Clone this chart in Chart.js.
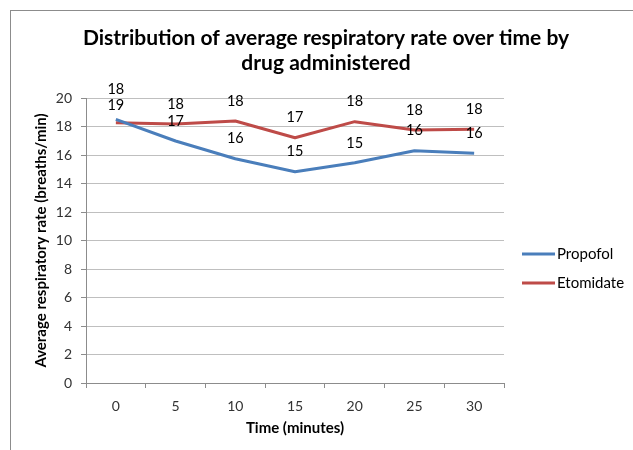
<!DOCTYPE html>
<html>
<head>
<meta charset="utf-8">
<script src="https://cdn.jsdelivr.net/npm/chart.js@4/dist/chart.umd.min.js"></script>
<style>
    html, body { margin: 0; padding: 0; background: #fff; }
</style>
</head>
<body>
<canvas id="chart1" width="633" height="450"></canvas>
<script>
var minutes = ['0', '5', '10', '15', '20', '25', '30'];
var propofol = [18.5, 16.98, 15.74, 14.83, 15.45, 16.3, 16.12];
var etomidate = [18.27, 18.18, 18.39, 17.21, 18.34, 17.75, 17.8];
var yTicks = [0, 2, 4, 6, 8, 10, 12, 14, 16, 18, 20];
var seriesNames = ['Propofol', 'Etomidate'];
var seriesColors = ['#4a7ebb', '#be4b48'];

Chart.defaults.font.family = 'Lato';
Chart.defaults.color = '#333';

// frame, title and legend drawn by hand, Excel style
var excelBits = {
    id: 'excelBits',
    beforeDraw: function(chart) {
        var c = chart.ctx;
        c.save();
        c.fillStyle = '#fff';
        c.fillRect(0, 0, chart.width, chart.height);
        c.strokeStyle = '#8c8c8c';
        c.lineWidth = 1;
        c.strokeRect(10.5, 10.5, 700, 500);
        c.restore();
    },
    afterDraw: function(chart) {
        var c = chart.ctx;
        c.save();
        c.fillStyle = '#000';
        c.textAlign = 'center';
        c.textBaseline = 'alphabetic';
        c.font = 'bold 21px Lato';
        c.fillText('Distribution of average respiratory rate over time by', 326, 45);
        c.fillText('drug administered', 326, 70);

        c.font = '15px Lato';
        c.textAlign = 'left';
        c.textBaseline = 'middle';
        chart.data.datasets.forEach(function(ds, i) {
            var y = 254 + i * 29;
            c.strokeStyle = ds.borderColor;
            c.lineWidth = 3;
            c.beginPath();
            c.moveTo(522, y);
            c.lineTo(555, y);
            c.stroke();
            c.fillStyle = '#000';
            c.fillText(ds.label, 557, y);
        });
        c.restore();
    }
};

var pointLabels = {
    id: 'pointLabels',
    afterDatasetsDraw: function(chart, args, opts) {
        var c = chart.ctx;
        c.save();
        c.font = '14.5px Lato';
        c.fillStyle = '#000';
        c.textAlign = 'center';
        c.textBaseline = 'middle';
        chart.data.datasets.forEach(function(ds, i) {
            chart.getDatasetMeta(i).data.forEach(function(pt, j) {
                var lift = opts.nudge[i + '-' + j] || opts.lift;
                c.fillText(Math.round(ds.data[j]), pt.x, pt.y - lift);
            });
        });
        c.restore();
    }
};

var ctx1 = document.getElementById('chart1').getContext('2d');
new Chart(ctx1, {
    type: 'line',
    plugins: [excelBits, pointLabels],
    data: {
        labels: minutes,
        datasets: [{
            label: seriesNames[0],
            data: propofol,
            borderColor: seriesColors[0],
            backgroundColor: seriesColors[0],
            borderWidth: 3,
            pointRadius: 0,
            borderJoinStyle: 'round',
            tension: 0
        }, {
            label: seriesNames[1],
            data: etomidate,
            borderColor: seriesColors[1],
            backgroundColor: seriesColors[1],
            borderWidth: 3,
            pointRadius: 0,
            borderJoinStyle: 'round',
            tension: 0
        }]
    },
    options: {
        responsive: false,
        animation: false,
        layout: { padding: { left: 10, top: 98, right: 129, bottom: 0 } },
        plugins: {
            legend: { display: false },
            title: { display: false },
            tooltip: { enabled: false },
            pointLabels: { lift: 20, nudge: { '0-0': 14, '1-0': 33 } }
        },
        scales: {
            x: {
                offset: true,
                afterFit: function(s) { s.height = 67; },
                grid: { offset: true, drawOnChartArea: false, tickLength: 5, color: '#8c8c8c' },
                border: { color: '#8c8c8c' },
                ticks: { padding: 10, font: { size: 14 }, maxRotation: 0 },
                title: { display: true, text: 'Time (minutes)', color: '#000', font: { size: 15, weight: 'bold' }, padding: { top: 0, bottom: 13 } }
            },
            y: {
                min: 0,
                max: 20,
                afterFit: function(s) { s.width = 76; },
                afterBuildTicks: function(s) { s.ticks = yTicks.map(function(v) { return { value: v }; }); },
                grid: { color: '#bfbfbf', tickLength: 5, tickColor: '#8c8c8c' },
                border: { color: '#8c8c8c' },
                ticks: { padding: 9, font: { size: 14 } },
                title: { display: true, text: 'Average respiratory rate (breaths/min)', color: '#000', font: { size: 15, weight: 'bold' }, padding: { top: 22, bottom: 0 } }
            }
        }
    }
});
</script>
</body>
</html>
